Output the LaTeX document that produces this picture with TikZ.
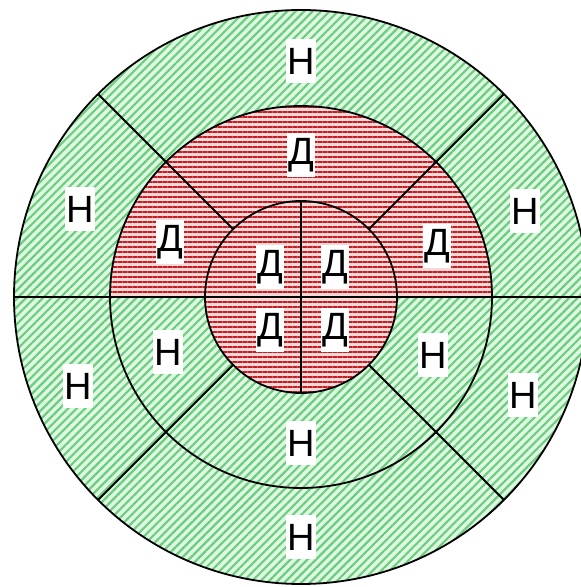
\documentclass[tikz,border=0pt]{standalone}
\usepackage{fontspec}
\setmainfont{Liberation Sans}
\usetikzlibrary{patterns.meta}

\definecolor{akinRed}{RGB}{195,30,35}
\definecolor{akinBg}{RGB}{248,215,215}
\definecolor{normGreen}{RGB}{110,205,125}
\definecolor{normBg}{RGB}{222,248,228}

\tikzset{
  akin/.style={fill=akinBg, postaction={pattern={Lines[angle=0,distance=2.5pt,line width=1.2pt]}, pattern color=akinRed}},
  norm/.style={fill=normBg, postaction={pattern={Lines[angle=45,distance=3pt,line width=1.1pt]}, pattern color=normGreen}},
  segline/.style={line width=0.9pt, black},
  seglabel/.style={fill=white, inner sep=0.5pt, minimum width=12pt, minimum height=22pt, font=\fontsize{19}{19}\selectfont},
}

\begin{document}
\begin{tikzpicture}[x=0.5pt, y=0.5pt]

    % --- Configuration ---
    \def\Ri{96}  % inner (apical) radius
    \def\Rm{191} % middle radius
    \def\Ro{287} % outer radius

    \useasboundingbox (-301,-290) rectangle (279,297);

    % --- Segment fills ---
    \fill[norm] (0,0) circle (\Ro);
    \fill[akin] (\Rm,0) arc (0:180:\Rm) -- cycle;
    \fill[akin] (0,0) circle (\Ri);

    % --- Rings and dividers ---
    \draw[segline] (0,0) circle (\Ri);
    \draw[segline] (0,0) circle (\Rm);
    \draw[segline] (0,0) circle (\Ro);
    \draw[segline] (-\Ro,0) -- (\Ro,0);
    \draw[segline] (0,-\Ri) -- (0,\Ri);
    \foreach \a in {45,135,225,315}
        \draw[segline] (\a:\Ri) -- (\a:\Ro);

    % --- Outer ring labels ---
    \node[seglabel] (o1) at (0,236) {Н};
    \node[seglabel] (o2) at (-221,88) {Н};
    \node[seglabel] (o3) at (-223,-89) {Н};
    \node[seglabel] (o4) at (0,-240) {Н};
    \node[seglabel] (o5) at (222,-98) {Н};
    \node[seglabel] (o6) at (224,86) {Н};

    % --- Middle ring labels ---
    \node[seglabel] (m1) at (0,142) {Д};
    \node[seglabel] (m2) at (-131,55) {Д};
    \node[seglabel] (m3) at (-133,-55) {Н};
    \node[seglabel] (m4) at (0,-146) {Н};
    \node[seglabel] (m5) at (132,-58) {Н};
    \node[seglabel] (m6) at (136,51) {Д};

    % --- Apical labels ---
    \node[seglabel] (a1) at (-31,30) {Д};
    \node[seglabel] (a2) at (34,30) {Д};
    \node[seglabel] (a3) at (-31,-33) {Д};
    \node[seglabel] (a4) at (34,-33) {Д};

\end{tikzpicture}
\end{document}
